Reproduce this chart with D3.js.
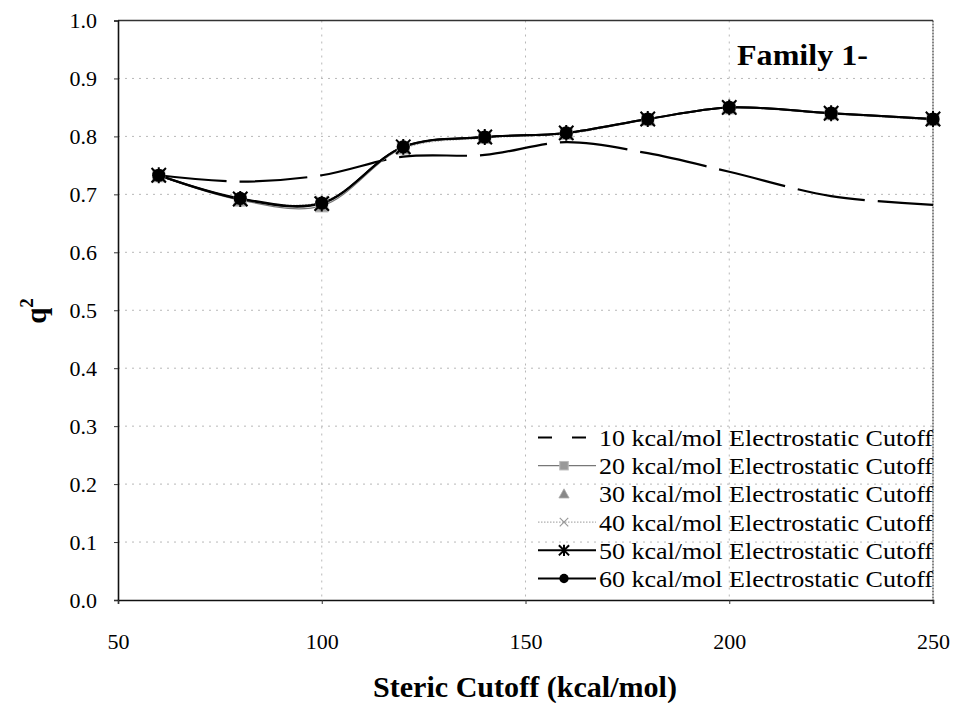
<!DOCTYPE html>
<html>
<head>
<meta charset="utf-8">
<script src="https://cdn.jsdelivr.net/npm/d3@7"></script>
<style>
  html, body { margin: 0; padding: 0; background: #fff; }
  svg { display: block; }
</style>
</head>
<body>
<svg id="chart" width="954" height="703"></svg>
<script>
// Steric cutoff values (x) shared by every series
const stericCutoffs = [60, 80, 100, 120, 140, 160, 180, 200, 225, 250];

// q² per electrostatic cutoff
const q2_10 = [0.733, 0.722, 0.733, 0.765, 0.768, 0.790, 0.771, 0.739, 0.697, 0.682];
const q2_20 = [0.732, 0.690, 0.680, 0.780, 0.798, 0.805, 0.829, 0.849, 0.839, 0.829];
const q2_30 = [0.732, 0.691, 0.683, 0.781, 0.798, 0.806, 0.830, 0.850, 0.840, 0.829];
const q2_40 = [0.731, 0.692, 0.687, 0.779, 0.797, 0.804, 0.829, 0.849, 0.839, 0.828];
const q2_50 = [0.733, 0.692, 0.684, 0.782, 0.799, 0.806, 0.830, 0.850, 0.840, 0.830];
const q2_60 = [0.733, 0.693, 0.685, 0.782, 0.799, 0.806, 0.830, 0.850, 0.840, 0.830];

const seriesLabels = [
  "10 kcal/mol Electrostatic Cutoff",
  "20 kcal/mol Electrostatic Cutoff",
  "30 kcal/mol Electrostatic Cutoff",
  "40 kcal/mol Electrostatic Cutoff",
  "50 kcal/mol Electrostatic Cutoff",
  "60 kcal/mol Electrostatic Cutoff"
];

const xTicks = [50, 100, 150, 200, 250];
const yTicks = [0.0, 0.1, 0.2, 0.3, 0.4, 0.5, 0.6, 0.7, 0.8, 0.9, 1.0];

const chartTitle = "Family 1-";
const xTitle = "Steric Cutoff (kcal/mol)";

// Pick a Times-like face if one is installed, otherwise a plain sans face
function fontAvailable(name) {
  const ctx = document.createElement("canvas").getContext("2d");
  const probe = "mmmmmmmmmmlliWWabc0123";
  ctx.font = "72px monospace";
  const base = ctx.measureText(probe).width;
  ctx.font = `72px "${name}", monospace`;
  return ctx.measureText(probe).width !== base;
}
const serifName = ["Liberation Serif", "Tinos", "Times New Roman", "DejaVu Serif", "Noto Serif"].find(fontAvailable);
const HAS_SERIF = !!serifName;
const FONT = HAS_SERIF ? `"${serifName}", serif` : '"Liberation Sans", Arial, sans-serif';

// Series styling
const series = [
  { label: seriesLabels[0], values: q2_10, line: true,  stroke: "#000", width: 2.2, dash: "68,13", legendDash: "14,20", marker: null },
  { label: seriesLabels[1], values: q2_20, line: true,  stroke: "#777", width: 1.2, dash: null, legendDash: null, marker: "square" },
  { label: seriesLabels[2], values: q2_30, line: false, stroke: null,   width: 0,   dash: null, legendDash: null, marker: "triangle" },
  { label: seriesLabels[3], values: q2_40, line: true,  stroke: "#999", width: 1.0, dash: "1.5,1.5", legendDash: "1.5,1.5", marker: "cross" },
  { label: seriesLabels[4], values: q2_50, line: true,  stroke: "#000", width: 2.0, dash: null, legendDash: null, marker: "asterisk" },
  { label: seriesLabels[5], values: q2_60, line: true,  stroke: "#000", width: 2.0, dash: null, legendDash: null, marker: "circle" }
];

const svg = d3.select("#chart");
const plot = { left: 118, right: 933, top: 20.5, bottom: 600 };

const x = d3.scaleLinear().domain([50, 250]).range([plot.left, plot.right]);
const y = d3.scaleLinear().domain([0, 1]).range([plot.bottom, plot.top]);

// Gridlines (dotted, light)
const grid = svg.append("g").attr("class", "grid");
grid.selectAll("line.h").data(yTicks.filter(d => d > 0 && d < 1)).join("line")
  .attr("x1", plot.left).attr("x2", plot.right)
  .attr("y1", d => y(d)).attr("y2", d => y(d))
  .attr("stroke", "#b8b8b8").attr("stroke-width", 1).attr("stroke-dasharray", "2,5");
grid.selectAll("line.v").data(xTicks.filter(d => d > 50 && d < 250)).join("line")
  .attr("x1", d => x(d)).attr("x2", d => x(d))
  .attr("y1", plot.top).attr("y2", plot.bottom)
  .attr("stroke", "#b8b8b8").attr("stroke-width", 1).attr("stroke-dasharray", "2,5");

// Frame: top and right borders
svg.append("line").attr("x1", plot.left).attr("x2", plot.right).attr("y1", plot.top).attr("y2", plot.top)
  .attr("stroke", "#333").attr("stroke-width", 1.3);
svg.append("line").attr("x1", plot.right).attr("x2", plot.right).attr("y1", plot.top).attr("y2", plot.bottom)
  .attr("stroke", "#444").attr("stroke-width", 1.3).attr("stroke-dasharray", "2,1");

// Axes
const yAxis = d3.axisLeft(y).tickValues(yTicks).tickFormat(d3.format(".1f")).tickSize(4).tickPadding(17);
const xAxis = d3.axisBottom(x).tickValues(xTicks).tickFormat(d3.format("d")).tickSize(4).tickPadding(29);

const gy = svg.append("g").attr("transform", `translate(${plot.left},0)`).call(yAxis);
const gx = svg.append("g").attr("transform", `translate(0,${plot.bottom})`).call(xAxis);
[gx, gy].forEach(g => {
  g.attr("font-family", null).attr("font-size", null);
  g.select(".domain").attr("stroke", "#111").attr("stroke-width", 1.6);
  g.selectAll(".tick line").attr("stroke", "#333");
  g.selectAll(".tick text").style("font-family", FONT)
    .style("font-size", HAS_SERIF ? "22px" : "21px").attr("fill", "#000");
});
gy.selectAll(".tick text").attr("dy", "0.34em");

// Axis titles
svg.append("text").attr("x", 525).attr("y", 697).attr("text-anchor", "middle")
  .style("font-family", FONT).style("font-size", "29px").style("font-weight", "bold")
  .attr("textLength", 304).attr("lengthAdjust", "spacingAndGlyphs")
  .text(xTitle);

const yTitle = svg.append("text").attr("transform", "translate(46,311) rotate(-90)")
  .attr("text-anchor", "middle")
  .style("font-family", FONT).style("font-size", "29px").style("font-weight", "bold");
yTitle.append("tspan").text("q");
yTitle.append("tspan").style("font-size", "19px").attr("dy", -13).text("2");

// Chart title
svg.append("text").attr("x", 737).attr("y", 65)
  .style("font-family", FONT).style("font-size", "30px").style("font-weight", "bold")
  .attr("textLength", 131).attr("lengthAdjust", "spacingAndGlyphs")
  .text(chartTitle);

// Lines (Excel-like smoothed curves)
const lineGen = d3.line()
  .x((d, i) => x(stericCutoffs[i]))
  .y(d => y(d))
  .curve(d3.curveCatmullRom.alpha(0.5));

const linesG = svg.append("g");
series.forEach(s => {
  if (!s.line) return;
  linesG.append("path")
    .datum(s.values)
    .attr("d", lineGen)
    .attr("fill", "none")
    .attr("stroke", s.stroke)
    .attr("stroke-width", s.width)
    .attr("stroke-dasharray", s.dash);
});

// Marker drawing
function drawMarker(g, type, cx, cy, scale) {
  const k = scale || 1;
  if (type === "square") {
    g.append("rect").attr("x", cx - 5 * k).attr("y", cy - 5 * k).attr("width", 10 * k).attr("height", 10 * k)
      .attr("fill", "#999").attr("stroke", "#bbb").attr("stroke-width", 1);
  } else if (type === "triangle") {
    const s = 6 * k;
    g.append("path").attr("d", `M${cx},${cy - s}L${cx + s},${cy + s * 0.8}L${cx - s},${cy + s * 0.8}Z`)
      .attr("fill", "#888").attr("stroke", "#aaa").attr("stroke-width", 0.8);
  } else if (type === "cross") {
    const s = 5 * k;
    g.append("path").attr("d", `M${cx - s},${cy - s}L${cx + s},${cy + s}M${cx - s},${cy + s}L${cx + s},${cy - s}`)
      .attr("stroke", "#999").attr("stroke-width", 1.2).attr("fill", "none");
  } else if (type === "asterisk") {
    const s = 6 * k;
    g.append("path").attr("d",
      `M${cx - s},${cy - s}L${cx + s},${cy + s}M${cx - s},${cy + s}L${cx + s},${cy - s}M${cx},${cy - s * 1.1}L${cx},${cy + s * 1.1}`)
      .attr("stroke", "#000").attr("stroke-width", 2).attr("fill", "none");
  } else if (type === "circle") {
    g.append("circle").attr("cx", cx).attr("cy", cy).attr("r", 5.5 * k).attr("fill", "#000");
  }
}

const markersG = svg.append("g");
series.forEach(s => {
  if (!s.marker) return;
  s.values.forEach((v, i) => drawMarker(markersG, s.marker, x(stericCutoffs[i]), y(v), 1.2));
});

// Legend
const legend = svg.append("g");
const legendY0 = 437.5, legendStep = 28.2;
series.forEach((s, i) => {
  const ly = legendY0 + i * legendStep;
  if (s.line) {
    legend.append("line").attr("x1", 538).attr("x2", 596).attr("y1", ly).attr("y2", ly)
      .attr("stroke", s.stroke).attr("stroke-width", s.width)
      .attr("stroke-dasharray", s.legendDash);
  }
  if (s.marker) drawMarker(legend, s.marker, 564, ly, 0.85);
  legend.append("text").attr("x", 599).attr("y", ly).attr("dy", "0.35em")
    .style("font-family", FONT).style("font-size", HAS_SERIF ? "24px" : "23px")
    .attr("textLength", 334).attr("lengthAdjust", "spacingAndGlyphs")
    .text(s.label);
});
</script>
</body>
</html>
